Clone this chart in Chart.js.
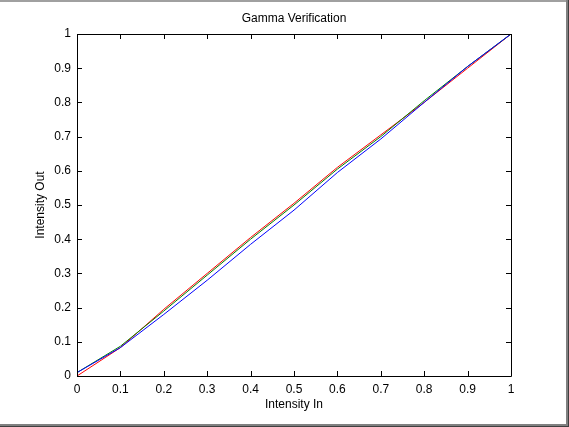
<!DOCTYPE html>
<html lang="en">
<head>
    <meta charset="UTF-8" />
    <title>Gamma Verification</title>
    <script src="https://cdn.jsdelivr.net/npm/chart.js"></script>
    <style>
        html, body { margin: 0; padding: 0; background: #ffffff; }
        #wrap { width: 569px; height: 427px; position: relative; }
    </style>
</head>
<body>
<div id="wrap"><canvas id="gammaChart"></canvas></div>
<script>
    // intensity in (x) and measured intensity out per channel
    const intensityIn = [0, 0.1, 0.2, 0.3, 0.4, 0.5, 0.6, 0.7, 0.8, 0.9, 1];
    const blueOut  = [0.010, 0.083, 0.180, 0.280, 0.385, 0.485, 0.595, 0.693, 0.800, 0.905, 1];
    const greenOut = [0.010, 0.087, 0.190, 0.295, 0.400, 0.500, 0.605, 0.700, 0.805, 0.905, 1];
    const redOut   = [0.000, 0.083, 0.195, 0.300, 0.405, 0.505, 0.610, 0.705, 0.800, 0.900, 1];
    const tickValues = [0, 0.1, 0.2, 0.3, 0.4, 0.5, 0.6, 0.7, 0.8, 0.9, 1];

    const toPoints = ys => intensityIn.map((x, i) => ({ x: x, y: ys[i] }));
    const fmt = v => String(Math.round(v * 10) / 10);

    // matlab style box with inward ticks, title and figure bevel
    const framePlugin = {
        id: "frame",
        afterDraw(chart) {
            const ctx = chart.ctx;
            const a = chart.chartArea;
            const xs = chart.scales.x, ys = chart.scales.y;
            ctx.save();
            ctx.strokeStyle = "#000";
            ctx.lineWidth = 1;
            ctx.beginPath();
            ctx.rect(Math.round(a.left) + 0.5, Math.round(a.top) + 0.5,
                Math.round(a.right - a.left), Math.round(a.bottom - a.top));
            tickValues.forEach(v => {
                const px = Math.round(xs.getPixelForValue(v)) + 0.5;
                ctx.moveTo(px, a.bottom); ctx.lineTo(px, a.bottom - 5);
                ctx.moveTo(px, a.top); ctx.lineTo(px, a.top + 5);
                const py = Math.round(ys.getPixelForValue(v)) + 0.5;
                ctx.moveTo(a.left, py); ctx.lineTo(a.left + 5, py);
                ctx.moveTo(a.right, py); ctx.lineTo(a.right - 5, py);
            });
            ctx.stroke();

            ctx.fillStyle = "#000";
            ctx.font = "12px 'Liberation Sans', Arial, sans-serif";
            ctx.textAlign = "center";
            ctx.textBaseline = "middle";
            ctx.fillText("Gamma Verification", (a.left + a.right) / 2, 19);

            // window bevel
            const w = chart.width, h = chart.height;
            ctx.fillStyle = "#a0a0a0";
            ctx.fillRect(0, 0, w, 2);
            ctx.fillStyle = "#808080";
            ctx.fillRect(w - 3, 0, 3, h);
            ctx.fillRect(0, h - 3, w, 3);
            ctx.fillStyle = "#404040";
            ctx.fillRect(w - 1, 0, 1, h);
            ctx.fillRect(0, h - 1, w, 1);
            ctx.restore();
        }
    };

    const lineStyle = { borderWidth: 1, pointRadius: 0, tension: 0, fill: false };

    new Chart(document.getElementById("gammaChart"), {
        type: "line",
        data: {
            datasets: [
                { label: "Blue", data: toPoints(blueOut), borderColor: "#0000ff", ...lineStyle },
                { label: "Green", data: toPoints(greenOut), borderColor: "#008000", ...lineStyle },
                { label: "Red", data: toPoints(redOut), borderColor: "#ff0000", ...lineStyle }
            ]
        },
        options: {
            responsive: true,
            maintainAspectRatio: false,
            animation: false,
            layout: { padding: { top: 34, right: 58, left: 0, bottom: 0 } },
            plugins: { legend: { display: false }, tooltip: { enabled: false } },
            scales: {
                x: {
                    type: "linear", min: 0, max: 1,
                    afterBuildTicks: s => { s.ticks = tickValues.map(v => ({ value: v })); },
                    afterFit: s => { s.height = 51; },
                    grid: { display: false, drawTicks: false },
                    border: { display: false },
                    ticks: {
                        color: "#000", padding: 6, maxRotation: 0,
                        font: { family: "'Liberation Sans', Arial, sans-serif", size: 12 },
                        callback: v => fmt(v)
                    },
                    title: {
                        display: true, text: "Intensity In", color: "#000",
                        font: { family: "'Liberation Sans', Arial, sans-serif", size: 12 },
                        padding: { top: 0, bottom: 15 }
                    }
                },
                y: {
                    type: "linear", min: 0, max: 1,
                    afterBuildTicks: s => { s.ticks = tickValues.map(v => ({ value: v })); },
                    afterFit: s => { s.width = 77; },
                    grid: { display: false, drawTicks: false },
                    border: { display: false },
                    ticks: {
                        color: "#000", padding: 6,
                        font: { family: "'Liberation Sans', Arial, sans-serif", size: 12 },
                        callback: v => fmt(v)
                    },
                    title: {
                        display: true, text: "Intensity Out", color: "#000",
                        font: { family: "'Liberation Sans', Arial, sans-serif", size: 12 },
                        padding: { top: 33, bottom: 0 }
                    }
                }
            }
        },
        plugins: [framePlugin]
    });
</script>
</body>
</html>
